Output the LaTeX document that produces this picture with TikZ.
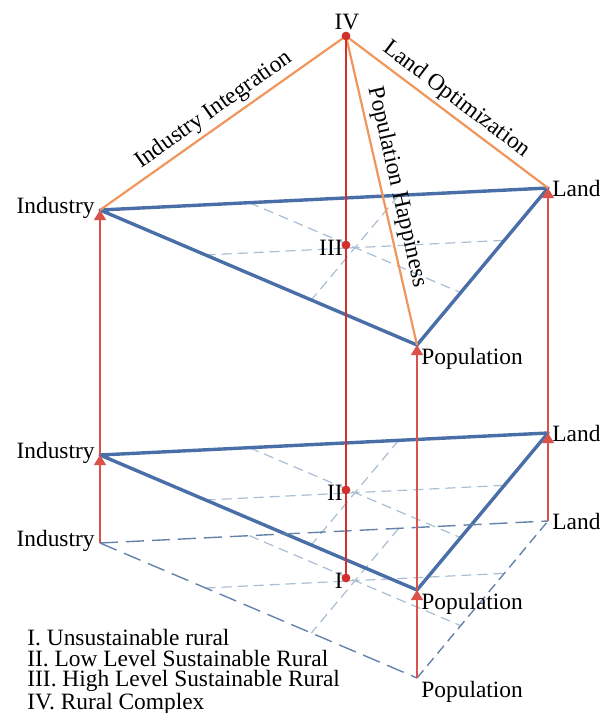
\documentclass[tikz,border=0pt]{standalone}
\usepackage{fontspec}
\setmainfont{Liberation Serif}
\usetikzlibrary{arrows.meta,calc}
\definecolor{layblue}{HTML}{4A6FA8}
\definecolor{gridblue}{HTML}{A9BDD5}
\definecolor{baseblue}{HTML}{6482AA}
\definecolor{levred}{HTML}{D0312D}
\definecolor{uptred}{HTML}{D9534A}
\definecolor{linkor}{HTML}{F0965C}
\tikzset{
  lbl/.style={font=\fontsize{11.7}{10.2}\selectfont, inner sep=0pt},
  layer/.style={draw=layblue, line width=1.7pt, line join=round},
  baseln/.style={draw=baseblue, line width=0.7pt, dash pattern=on 9pt off 4pt},
  gridln/.style={draw=gridblue, line width=0.6pt, dash pattern=on 5pt off 3pt},
  up/.style={-{Triangle[length=5pt,width=6pt]}, color=uptred, line width=0.65pt},
  link/.style={draw=linkor, line width=1.1pt},
  axis/.style={draw=levred, line width=1.4pt},
}

\begin{document}
\begin{tikzpicture}[x=0.5pt,y=-0.5pt]
  \useasboundingbox (0,0) rectangle (600,713);
  % ---- three layers: top (III), middle (II), base (I) ----
  \foreach \lay/\dy in {T/0,M/245,B/333} {
    \coordinate (ind\lay) at (100,210+\dy);
    \coordinate (lan\lay) at (548,188+\dy);
    \coordinate (pop\lay) at (417,345+\dy);
    \draw[gridln] ($(ind\lay)!2/3!(lan\lay)$) -- ($(ind\lay)!2/3!(pop\lay)$);
    \draw[gridln] ($(pop\lay)!2/3!(ind\lay)$) -- ($(pop\lay)!2/3!(lan\lay)$);
    \draw[gridln] ($(lan\lay)!2/3!(ind\lay)$) -- ($(lan\lay)!2/3!(pop\lay)$);
  }
  \draw[layer] (indT) -- (lanT) -- (popT) -- cycle;
  \draw[layer] (indM) -- (lanM) -- (popM) -- cycle;
  \draw[baseln] (indB) -- (lanB);
  \draw[baseln] (indB) -- (popB);
  \draw[baseln, dash pattern=on 5pt off 3pt] (popB) -- (lanB);

  % ---- upward moves ----
  \foreach \a/\b in {indB/indM,indM/indT,lanB/lanM,lanM/lanT,popB/popM,popM/popT} \draw[up] (\a)--(\b);

  % ---- level axis ----
  \coordinate (lvIV) at (346,36);
  \coordinate (lvIII) at (346,245);
  \coordinate (lvII) at (346,490);
  \coordinate (lvI) at (346,578);
  \draw[link] (indT) -- node[lbl, sloped, above=2pt] (tInt) {Industry Integration} (lvIV);
  \draw[link] (lvIV) -- node[lbl, sloped, above=2pt] (tOpt) {Land Optimization} (lanT);
  \draw[link] (lvIV) -- node[lbl, sloped, above=2pt] (tHap) {Population Happiness} (popT);
  \draw[axis] (lvIV) -- (lvI);
  \foreach \p in {lvIV,lvIII,lvII,lvI} \fill[levred] (\p) circle (2.2pt);

  % ---- labels ----
  \foreach \lay in {T,M,B} {
    \node[lbl, anchor=base east] (ti\lay) at ([shift={(-5,3)}]ind\lay) {Industry};
    \node[lbl, anchor=west] (tl\lay) at ([shift={(4,0)}]lan\lay) {Land};
    \node[lbl, anchor=north west] (tp\lay) at ([shift={(4,3)}]pop\lay) {Population};
  }
  \node[lbl, anchor=south] (tIV) at ([shift={(1,-6)}]lvIV) {IV};
  \node[lbl, anchor=east] (tIII) at ([shift={(-3,3)}]lvIII) {III};
  \node[lbl, anchor=east] (tII) at ([shift={(-3,3)}]lvII) {II};
  \node[lbl, anchor=east] (tI) at ([shift={(-3,3)}]lvI) {I};
  \node[lbl, anchor=north west, align=left] (legend) at (27,629)
    {I. Unsustainable rural\\II. Low Level Sustainable Rural\\III. High Level Sustainable Rural\\IV. Rural Complex};
\end{tikzpicture}
\end{document}
